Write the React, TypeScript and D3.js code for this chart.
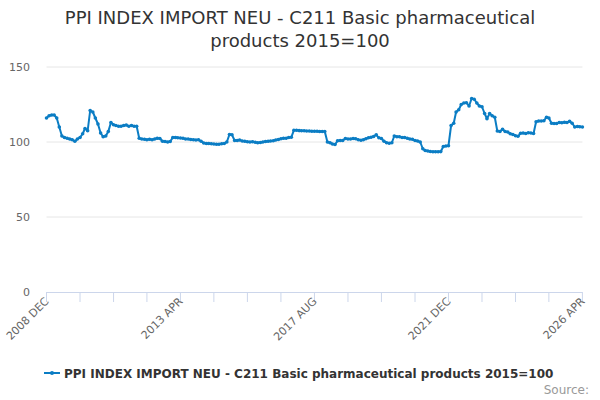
import React from "react";
import * as d3 from "d3";

// monthly index values, first value is 2008 DEC
const startMonth = new Date(2008, 11, 1);
const seriesName = "PPI INDEX IMPORT NEU - C211 Basic pharmaceutical products 2015=100";
const values = [
  116, 117.5, 118, 118, 116, 110, 104, 103, 102.5, 102, 101.5, 100.5, 102, 103, 105.5, 109,
  107.5, 121, 120, 116, 112, 106, 103.5, 104, 107, 113, 111.5, 111, 110.5, 110.5, 111, 111.3,
  110.5, 111, 110.5, 110.5, 102.5, 102, 101.8, 101.5, 101.8, 101.5, 102, 102.5, 102.3, 100.5,
  100.3, 100, 100.3, 103, 103, 102.8, 102.7, 102.5, 102, 102, 101.7, 101.5, 101.3, 101.5, 100.5,
  99.3, 99, 99, 98.8, 98.7, 98.5, 98.5, 98.8, 99, 100, 105, 104.8, 101, 101, 101.3, 100.7, 100.5,
  100.2, 100, 100.2, 99.8, 99.5, 99.7, 100, 100.3, 100.5, 100.7, 100.8, 101.3, 101.7, 102.2,
  102.5, 102.5, 103, 103.2, 107.8, 107.8, 107.6, 107.5, 107.5, 107.3, 107.3, 107.2, 107.2, 107.2,
  107, 107, 107, 100, 99.5, 98.7, 98.3, 100.8, 101, 101, 102.3, 102, 102, 102.3, 102.2, 101.5,
  101.2, 101.5, 102.2, 102.8, 103.2, 103.7, 104.8, 102.8, 102.3, 100.5, 99.5, 99.2, 99.5, 104,
  103.5, 103.5, 103, 103, 102.5, 102, 101.8, 101, 100.7, 100, 95.5, 94.3, 94, 93.7, 93.5, 93.5,
  93.5, 93.6, 97, 97.3, 97.5, 111, 112.5, 120, 121.5, 125, 126, 126.2, 124, 129, 128.5, 126, 124,
  123.5, 119, 115.5, 119, 117.5, 116.5, 107.3, 107, 108.5, 107, 106.7, 105.5, 105, 104.2, 103.8,
  105.8, 106, 105.7, 106.2, 106, 105.7, 113.5, 114, 114, 114.2, 116.5, 116, 112.5, 112.3, 112.3,
  113, 112.8, 113.2, 113, 113.8, 112.5, 110, 110.3, 110.2, 110,
];
const yTicks = [0, 50, 100, 150];
const xTickLabels = ["2008 DEC", "2013 APR", "2017 AUG", "2021 DEC", "2026 APR"];
const xTickStepMonths = 13;
const lineColor = "#0b7dc4";

const width = 600;
const height = 400;
const margin = { top: 67, right: 17.6, bottom: 108, left: 46.5 };
const font = "'DejaVu Sans', sans-serif";

export default function App() {
  const dates = values.map((_, i) => d3.timeMonth.offset(startMonth, i));
  const endMonth = d3.timeMonth.offset(startMonth, xTickStepMonths * 16);
  const x = d3.scaleTime().domain([startMonth, endMonth]).range([margin.left, width - margin.right]);
  const y = d3.scaleLinear().domain([0, 150]).range([height - margin.bottom, margin.top]);

  const line = d3
    .line<number>()
    .x((_, i) => x(dates[i]))
    .y((d) => y(d));

  const tickDates = d3.range(0, 17).map((k) => d3.timeMonth.offset(startMonth, k * xTickStepMonths));
  const baseY = y(0);

  return (
    <svg
      width={width}
      height={height}
      style={{ position: "absolute", left: 0, top: 0, background: "#fff" }}
      fontFamily={font}
    >
      <text x={300} y={24} textAnchor="middle" fontSize={18} fill="#333">
        PPI INDEX IMPORT NEU - C211 Basic pharmaceutical
      </text>
      <text x={300} y={47} textAnchor="middle" fontSize={18} fill="#333">
        products 2015=100
      </text>

      {/* grid + y labels */}
      {yTicks.map((t) => (
        <g key={t}>
          {t > 0 && (
            <line x1={margin.left} x2={width - margin.right} y1={y(t)} y2={y(t)} stroke="#e6e6e6" />
          )}
          <text x={30} y={y(t) + 4} textAnchor="end" fontSize={11} fill="#666">
            {t}
          </text>
        </g>
      ))}

      {/* x axis */}
      <line x1={margin.left} x2={width - margin.right} y1={baseY + 0.5} y2={baseY + 0.5} stroke="#ccd6eb" />
      {tickDates.map((d, k) => (
        <line key={k} x1={x(d)} x2={x(d)} y1={baseY} y2={baseY + 10} stroke="#ccd6eb" />
      ))}
      {xTickLabels.map((label, k) => {
        const tx = x(tickDates[k * 4]) + 3;
        const ty = baseY + 10;
        return (
          <text
            key={label}
            x={tx}
            y={ty}
            textAnchor="end"
            fontSize={11}
            fill="#666"
            transform={`rotate(-45 ${tx} ${ty})`}
          >
            {label}
          </text>
        );
      })}

      {/* series */}
      <path d={line(values) ?? ""} fill="none" stroke={lineColor} strokeWidth={2} strokeLinejoin="round" />
      {values.map((v, i) => (
        <circle key={i} cx={x(dates[i])} cy={y(v)} r={1.8} fill={lineColor} />
      ))}

      {/* legend */}
      <line x1={44} x2={60} y1={373} y2={373} stroke={lineColor} strokeWidth={2} />
      <circle cx={52} cy={373} r={2} fill={lineColor} />
      <text x={64} y={377.5} fontSize={12} fontWeight="bold" fill="#333">
        {seriesName}
      </text>

      <text x={589} y={394} textAnchor="end" fontSize={12} fill="#999">
        Source:
      </text>
    </svg>
  );
}
